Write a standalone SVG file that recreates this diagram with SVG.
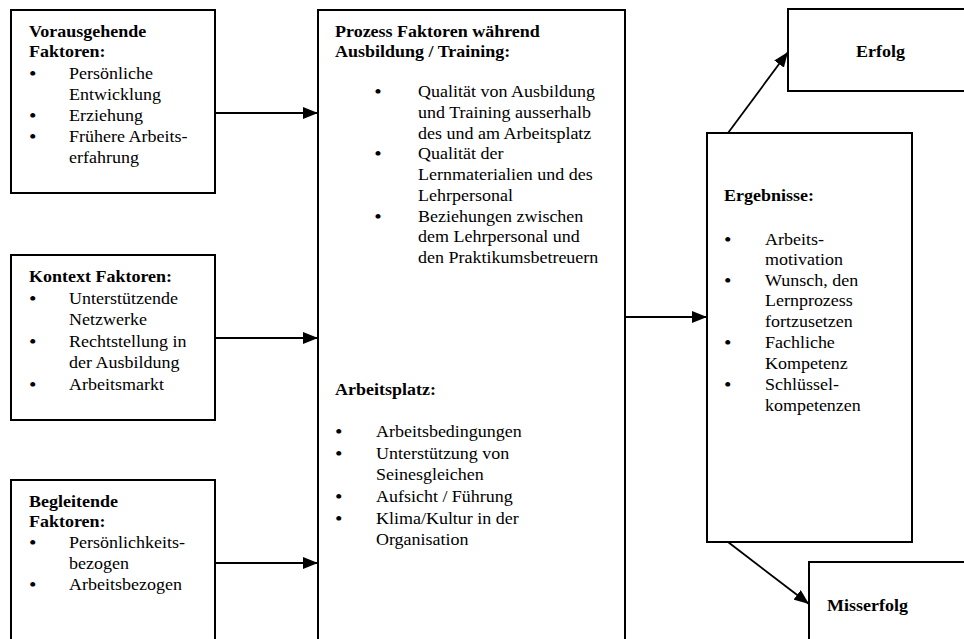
<svg xmlns="http://www.w3.org/2000/svg" width="964" height="639" viewBox="0 0 964 639">
<style>
.box{fill:#fff;stroke:#000;stroke-width:2}
.con{stroke:#000;stroke-width:1.8;fill:none;marker-end:url(#ah)}
text{font-family:"Liberation Serif","Times New Roman",serif;font-size:16px;fill:#000}
.b{font-weight:bold}
.bl{font-size:19px}
</style>
<defs>
<marker id="ah" markerUnits="userSpaceOnUse" markerWidth="16" markerHeight="12" refX="15" refY="6" orient="auto">
<path d="M0,0 L15,6 L0,12 Z" fill="#000"/>
</marker>
</defs>
<rect width="964" height="639" fill="#fff"/>

<g id="vorausgehende">
<rect class="box" x="11" y="10" width="204" height="183"/>
<g transform="translate(29,0) scale(1.125,1)">
<text class="b" x="0" y="37">Vorausgehende</text>
<text class="b" x="0" y="57">Faktoren:</text>
<text><tspan class="bl" x="0" y="80">•</tspan><tspan x="35.6" y="79">Persönliche</tspan></text>
<text x="35.6" y="100">Entwicklung</text>
<text><tspan class="bl" x="0" y="122">•</tspan><tspan x="35.6" y="121">Erziehung</tspan></text>
<text><tspan class="bl" x="0" y="143">•</tspan><tspan x="35.6" y="142">Frühere Arbeits-</tspan></text>
<text x="35.6" y="163">erfahrung</text>
</g>
</g>

<g id="kontext">
<rect class="box" x="11" y="255" width="204" height="165"/>
<g transform="translate(29,0) scale(1.125,1)">
<text class="b" x="0" y="282">Kontext Faktoren:</text>
<text><tspan class="bl" x="0" y="305">•</tspan><tspan x="35.6" y="304">Unterstützende</tspan></text>
<text x="35.6" y="325">Netzwerke</text>
<text><tspan class="bl" x="0" y="348">•</tspan><tspan x="35.6" y="347">Rechtstellung in</tspan></text>
<text x="35.6" y="368">der Ausbildung</text>
<text><tspan class="bl" x="0" y="391">•</tspan><tspan x="35.6" y="390">Arbeitsmarkt</tspan></text>
</g>
</g>

<g id="begleitende">
<rect class="box" x="11" y="480" width="204" height="170"/>
<g transform="translate(29,0) scale(1.125,1)">
<text class="b" x="0" y="507">Begleitende</text>
<text class="b" x="0" y="527">Faktoren:</text>
<text><tspan class="bl" x="0" y="549">•</tspan><tspan x="35.6" y="548">Persönlichkeits-</tspan></text>
<text x="35.6" y="569">bezogen</text>
<text><tspan class="bl" x="0" y="591">•</tspan><tspan x="35.6" y="590">Arbeitsbezogen</tspan></text>
</g>
</g>

<g id="prozess">
<rect class="box" x="318" y="10" width="307" height="640"/>
<g transform="translate(335,0) scale(1.125,1)">
<text class="b" x="0" y="37">Prozess Faktoren während</text>
<text class="b" x="0" y="57">Ausbildung / Training:</text>
<text><tspan class="bl" x="35" y="98">•</tspan><tspan x="73.8" y="97">Qualität von Ausbildung</tspan></text>
<text x="73.8" y="118">und Training ausserhalb</text>
<text x="73.8" y="139">des und am Arbeitsplatz</text>
<text><tspan class="bl" x="35" y="160">•</tspan><tspan x="73.8" y="159">Qualität der</tspan></text>
<text x="73.8" y="180">Lernmaterialien und des</text>
<text x="73.8" y="201">Lehrpersonal</text>
<text><tspan class="bl" x="35" y="223">•</tspan><tspan x="73.8" y="222">Beziehungen zwischen</tspan></text>
<text x="73.8" y="242">dem Lehrpersonal und</text>
<text x="73.8" y="263">den Praktikumsbetreuern</text>
<text class="b" x="0" y="395">Arbeitsplatz:</text>
<text><tspan class="bl" x="0" y="438">•</tspan><tspan x="36.4" y="437">Arbeitsbedingungen</tspan></text>
<text><tspan class="bl" x="0" y="460">•</tspan><tspan x="36.4" y="459">Unterstützung von</tspan></text>
<text x="36.4" y="480">Seinesgleichen</text>
<text><tspan class="bl" x="0" y="503">•</tspan><tspan x="36.4" y="502">Aufsicht / Führung</tspan></text>
<text><tspan class="bl" x="0" y="525">•</tspan><tspan x="36.4" y="524">Klima/Kultur in der</tspan></text>
<text x="36.4" y="545">Organisation</text>
</g>
</g>

<g id="ergebnisse">
<rect class="box" x="707" y="133" width="205" height="409"/>
<g transform="translate(724,0) scale(1.125,1)">
<text class="b" x="0" y="201">Ergebnisse:</text>
<text><tspan class="bl" x="0" y="246">•</tspan><tspan x="36.4" y="245">Arbeits-</tspan></text>
<text x="36.4" y="265">motivation</text>
<text><tspan class="bl" x="0" y="287">•</tspan><tspan x="36.4" y="286">Wunsch, den</tspan></text>
<text x="36.4" y="306">Lernprozess</text>
<text x="36.4" y="327">fortzusetzen</text>
<text><tspan class="bl" x="0" y="349">•</tspan><tspan x="36.4" y="348">Fachliche</tspan></text>
<text x="36.4" y="369">Kompetenz</text>
<text><tspan class="bl" x="0" y="391">•</tspan><tspan x="36.4" y="390">Schlüssel-</tspan></text>
<text x="36.4" y="411">kompetenzen</text>
</g>
</g>

<g id="erfolg">
<rect class="box" x="788" y="9" width="190" height="82"/>
<text class="b" transform="translate(856,57) scale(1.125,1)">Erfolg</text>
</g>

<g id="misserfolg">
<rect class="box" x="809" y="562" width="170" height="90"/>
<text class="b" transform="translate(827,611) scale(1.125,1)">Misserfolg</text>
</g>

<g id="connectors">
<line class="con" x1="215" y1="113" x2="318" y2="113"/>
<line class="con" x1="215" y1="338" x2="318" y2="338"/>
<line class="con" x1="215" y1="563" x2="318" y2="563"/>
<line class="con" x1="625" y1="317" x2="707" y2="317"/>
<line class="con" x1="728" y1="133" x2="788" y2="52"/>
<line class="con" x1="728" y1="542" x2="809" y2="604"/>
</g>
</svg>
